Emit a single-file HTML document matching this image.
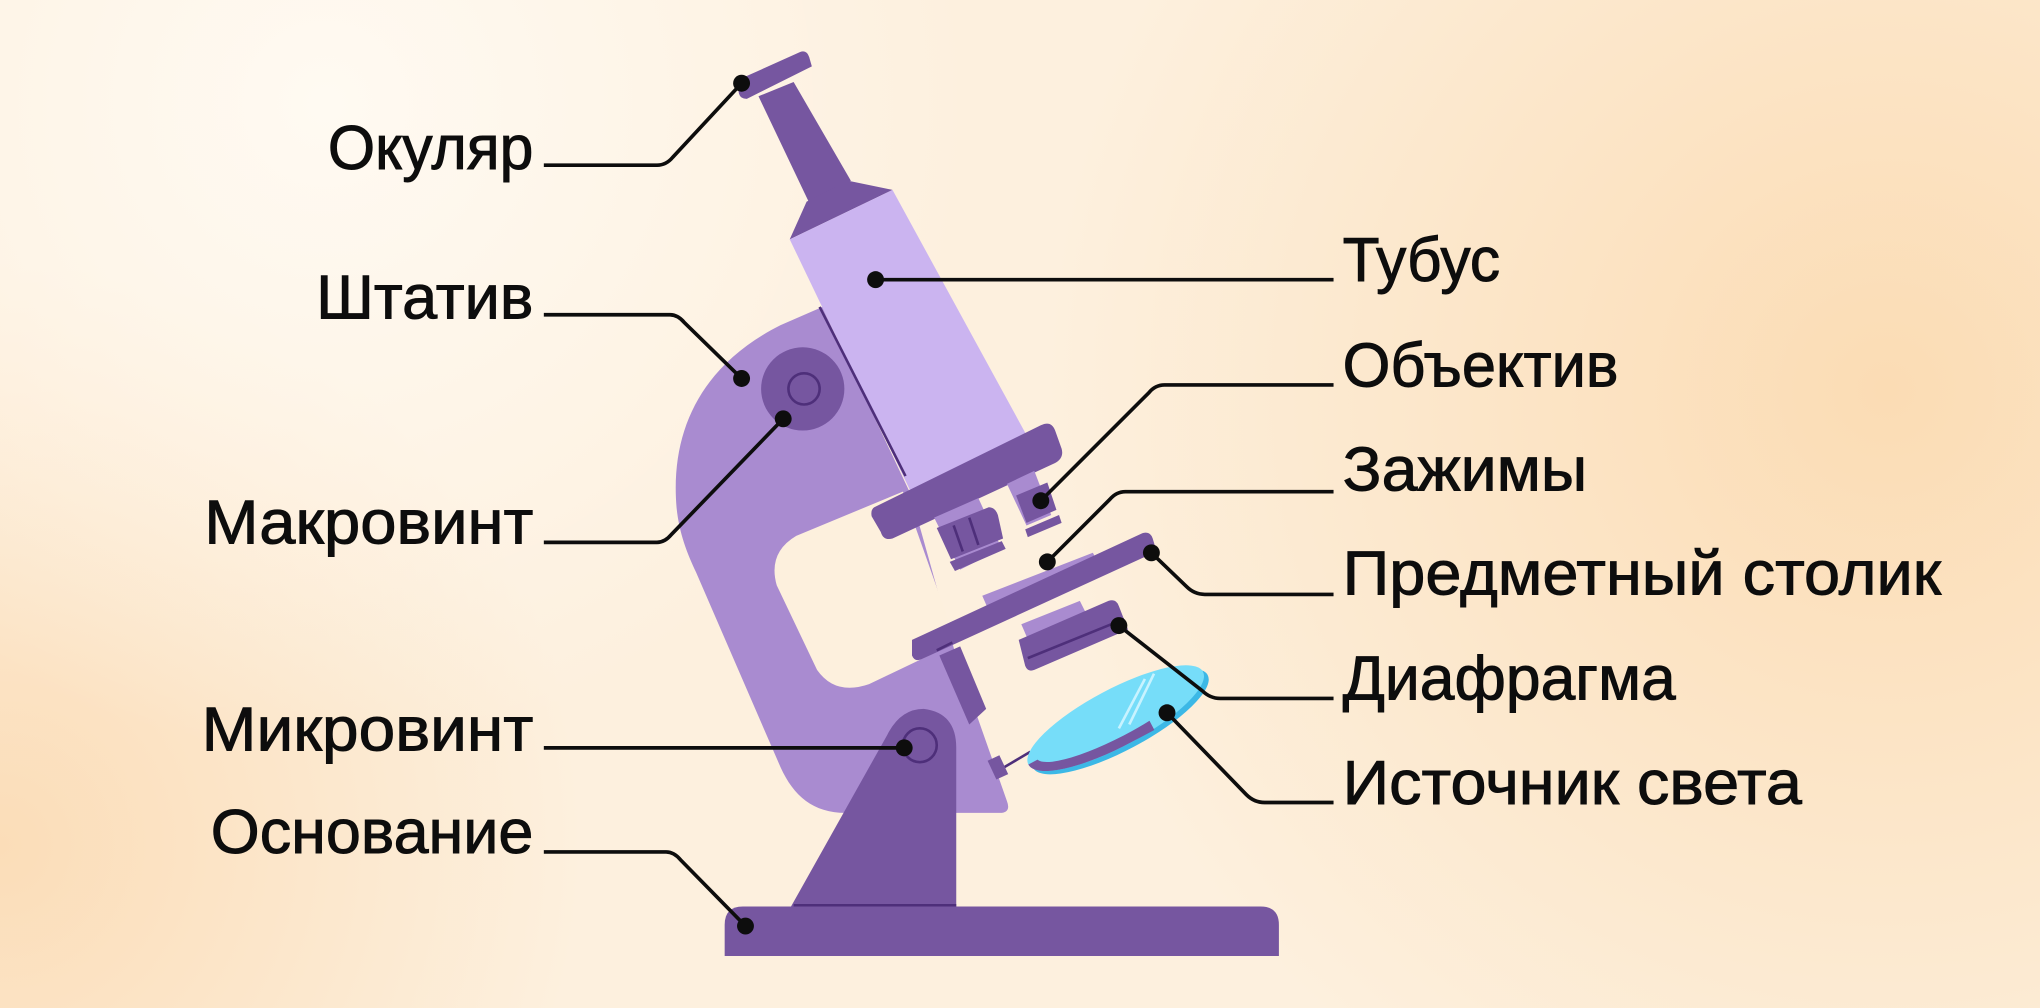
<!DOCTYPE html>
<html><head><meta charset="utf-8"><style>
html,body{margin:0;padding:0;width:2040px;height:1008px;overflow:hidden;}
svg{display:block}
text{font-family:"Liberation Sans","DejaVu Sans",sans-serif;font-size:48px;fill:#0d0d0d;stroke:#0d0d0d;stroke-width:0.7px;}
</style></head><body>
<svg width="2040" height="1008" viewBox="0 0 1568 775" preserveAspectRatio="none" xmlns="http://www.w3.org/2000/svg">
<defs>
<radialGradient id="g1" cx="1450" cy="300" r="650" gradientUnits="userSpaceOnUse">
<stop offset="0" stop-color="#fbdcb4"/><stop offset="1" stop-color="#fbdcb4" stop-opacity="0"/></radialGradient>
<radialGradient id="g2" cx="0" cy="650" r="450" gradientUnits="userSpaceOnUse">
<stop offset="0" stop-color="#fbddb8"/><stop offset="1" stop-color="#fbddb8" stop-opacity="0"/></radialGradient>
<radialGradient id="g3" cx="250" cy="80" r="500" gradientUnits="userSpaceOnUse">
<stop offset="0" stop-color="#fffaf2"/><stop offset="1" stop-color="#fffaf2" stop-opacity="0"/></radialGradient>
</defs>
<rect width="1568" height="775" fill="#fdf0de"/>
<rect width="1568" height="775" fill="url(#g1)"/>
<rect width="1568" height="775" fill="url(#g2)"/>
<rect width="1568" height="775" fill="url(#g3)"/>

<!-- base -->
<path d="M557,735 L557,711 Q557,697 571,697 L969,697 Q983,697 983,711 L983,735 Z" fill="#7656a0"/>
<!-- arm -->
<path d="M632,236 L600,250 C540,280 515,330 520,390 C522,410 528,425 535,440 L600,590 C610,612 625,625 650,625 L770,625 Q777,624 774,616 L735,505 L700,380 Z" fill="#a98bd0"/>
<path d="M694,378 L612,412 Q590,425 597,450 L628,515 Q642,535 668,526 L735,494 Z" fill="#fdf0dd"/>
<!-- pillar -->
<path d="M608,697 L682,565 Q692,545 710,545 Q735,548 735,575 L735,697 Z" fill="#7656a0"/>
<line x1="610" y1="696" x2="735" y2="696" stroke="#4e2f7a" stroke-width="2"/>
<circle cx="707" cy="573" r="13" fill="none" stroke="#4e2f7a" stroke-width="2"/>
<!-- macro knob -->
<circle cx="617" cy="299" r="32" fill="#7656a0"/>
<circle cx="618" cy="299" r="12" fill="none" stroke="#4e2f7a" stroke-width="2"/>
<!-- eyepiece -->
<path d="M583,74 L610,63 L654,139 L622,156 Z" fill="#7656a0"/>
<path d="M566,62 L615,40 Q620,38 622,44 L624,51 L574,76 Q569,76 568,72 Z" fill="#7656a0"/>
<path d="M620,155 L652,139 L686,146 L607,184 Z" fill="#7656a0"/>
<!-- tube -->
<path d="M607,184 L686,146 L792,340 L700,378 Z" fill="#cbb4f0"/>
<line x1="630" y1="236" x2="696" y2="366" stroke="#4e2f7a" stroke-width="2"/>
<!-- collar -->
<path d="M672,390 L800,327 Q808,323 811,331 L816,345 Q818,352 811,356 L686,414 Q679,416 677,409 L670,397 Q669,392 672,390 Z" fill="#7656a0"/>
<!-- left objective -->
<path d="M718,398 L752,383 L770,422 L738,438 Z" fill="#a98bd0"/>
<path d="M720,406 L760,390 Q765,390 767,396 L771,414 L731,430 Z" fill="#7656a0"/>
<line x1="733" y1="404" x2="740" y2="424" stroke="#4e2f7a" stroke-width="2"/>
<line x1="745" y1="398" x2="752" y2="419" stroke="#4e2f7a" stroke-width="2"/>
<path d="M730,432 L770,416 L773,422 L734,439 Z" fill="#7656a0"/>
<!-- right objective -->
<path d="M774,372 L795,362 L808,396 L789,404 Z" fill="#a98bd0"/>
<path d="M781,381 L805,371 L812,392 L789,402 Z" fill="#7656a0"/>
<path d="M788,407 L814,396 L816,402 L790,413 Z" fill="#7656a0"/>
<!-- stage support -->
<path d="M722,504 L738,497 L758,545 L745,557 Z" fill="#7656a0"/>
<!-- slide / under-stage -->
<path d="M755,458 L840,425 L848,440 L762,474 Z" fill="#a98bd0"/>
<path d="M785,480 L830,462 L838,478 L792,496 Z" fill="#a98bd0"/>
<path d="M783,492 L852,462 Q858,460 860,466 L867,484 L795,515 Q790,517 788,512 Z" fill="#7656a0"/>
<line x1="790" y1="506" x2="864" y2="476" stroke="#4e2f7a" stroke-width="2"/>
<!-- stage -->
<path d="M701,492 L878,410 Q884,408 886,414 L889,424 L708,507 Q703,509 701,504 Z" fill="#7656a0"/>
<line x1="720" y1="500" x2="732" y2="494" stroke="#4e2f7a" stroke-width="2"/>
<!-- mirror -->
<line x1="770" y1="591" x2="792" y2="578" stroke="#4e2f7a" stroke-width="2"/>
<rect x="762" y="582" width="10" height="16" fill="#7656a0" transform="rotate(-25 767 590)"/>
<g transform="rotate(-28 858 553)">
<ellipse cx="860" cy="556" rx="76" ry="22" fill="#3cb8e6"/>
<ellipse cx="858" cy="552" rx="76" ry="22" fill="#76ddf9"/>
<path d="M782,552 A76,22 0 0 0 860,574 L880,574 L880,566 A70,16 0 0 1 790,552 Z" fill="#7656a0"/>
</g>
<line x1="860" y1="560" x2="880" y2="522" stroke="#c8f3ff" stroke-width="2"/>
<line x1="868" y1="557" x2="887" y2="518" stroke="#c8f3ff" stroke-width="2"/>

<!-- leader lines -->
<g fill="none" stroke="#0d0d0d" stroke-width="2.8" stroke-linejoin="round">
<path d="M418,127 L505,127 Q512,127 517,121 L570,64"/>
<path d="M418,242 L515,242 Q521,242 526,248 L570,291"/>
<path d="M418,417 L505,417 Q511,417 516,411 L602,322"/>
<path d="M418,575 L695,575"/>
<path d="M418,655 L512,655 Q518,655 523,661 L573,712"/>
<path d="M673,215 L1025,215"/>
<path d="M1025,296 L895,296 Q888,296 883,302 L800,385"/>
<path d="M1025,378 L865,378 Q858,378 853,384 L805,432"/>
<path d="M885,425 L912,451 Q918,457 926,457 L1025,457"/>
<path d="M860,481 L924,531 Q930,537 938,537 L1025,537"/>
<path d="M897,548 L958,611 Q964,617 972,617 L1025,617"/>
</g>
<g fill="#0d0d0d">
<circle cx="570" cy="64" r="6.5"/><circle cx="570" cy="291" r="6.5"/><circle cx="602" cy="322" r="6.5"/>
<circle cx="695" cy="575" r="6.5"/><circle cx="573" cy="712" r="6.5"/><circle cx="673" cy="215" r="6.5"/>
<circle cx="800" cy="385" r="6.5"/><circle cx="805" cy="432" r="6.5"/><circle cx="885" cy="425" r="6.5"/>
<circle cx="860" cy="481" r="6.5"/><circle cx="897" cy="548" r="6.5"/>
</g>

<!-- labels -->
<text x="410" y="130" text-anchor="end" textLength="158" lengthAdjust="spacingAndGlyphs">Окуляр</text>
<text x="410" y="245" text-anchor="end" textLength="167" lengthAdjust="spacingAndGlyphs">Штатив</text>
<text x="410" y="418" text-anchor="end" textLength="253" lengthAdjust="spacingAndGlyphs">Макровинт</text>
<text x="410" y="577" text-anchor="end" textLength="255" lengthAdjust="spacingAndGlyphs">Микровинт</text>
<text x="410" y="656" text-anchor="end" textLength="248" lengthAdjust="spacingAndGlyphs">Основание</text>
<text x="1032" y="216" textLength="121" lengthAdjust="spacingAndGlyphs">Тубус</text>
<text x="1032" y="297" textLength="212" lengthAdjust="spacingAndGlyphs">Объектив</text>
<text x="1032" y="377" textLength="188" lengthAdjust="spacingAndGlyphs">Зажимы</text>
<text x="1032" y="457" textLength="460" lengthAdjust="spacingAndGlyphs">Предметный столик</text>
<text x="1032" y="538" textLength="256" lengthAdjust="spacingAndGlyphs">Диафрагма</text>
<text x="1032" y="618" textLength="353" lengthAdjust="spacingAndGlyphs">Источник света</text>
</svg>
</body></html>
